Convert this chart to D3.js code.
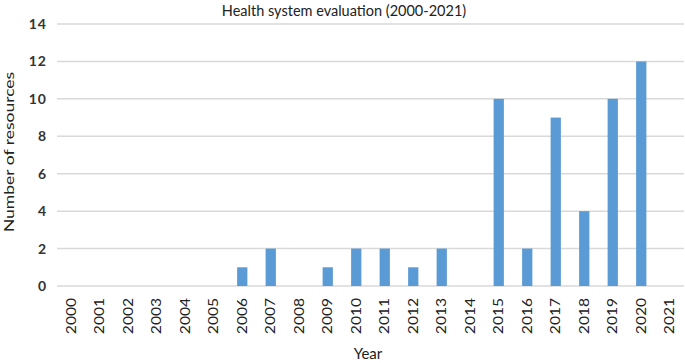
<!DOCTYPE html>
<html><head><meta charset="utf-8">
<script src="https://cdn.jsdelivr.net/npm/d3@7"></script>
<style>body{margin:0;background:#fff}svg{display:block}</style>
</head><body>
<svg id="chart" width="685" height="363"></svg>
<script>
const years = ["2000","2001","2002","2003","2004","2005","2006","2007","2008","2009","2010","2011","2012","2013","2014","2015","2016","2017","2018","2019","2020","2021"];
const resources = [0,0,0,0,0,0,1,2,0,1,2,2,1,2,0,10,2,9,4,10,12,0];
const yTicks = [0,2,4,6,8,10,12,14];
const title = "Health system evaluation (2000-2021)";

const svg = d3.select("#chart");
const m = {left:57, right:1, top:24, bottom:77};
const W = 685, H = 363;
const x = d3.scaleBand().domain(years).range([m.left, W - m.right]).paddingInner(0.64).paddingOuter(0.32);
const y = d3.scaleLinear().domain([0,14]).range([H - m.bottom, m.top]);
const font = "Lato, 'Open Sans', sans-serif";

svg.append("g").selectAll("line").data(yTicks).join("line")
  .attr("x1", m.left).attr("x2", W - m.right)
  .attr("y1", d => y(d)).attr("y2", d => y(d))
  .attr("stroke", "#d9d9d9").attr("stroke-width", 1.5);

svg.append("g").selectAll("rect").data(years).join("rect")
  .attr("x", d => x(d)).attr("width", x.bandwidth())
  .attr("y", (d,i) => y(resources[i]))
  .attr("height", (d,i) => y(0) - y(resources[i]))
  .attr("fill", "#5b9bd5");

const ya = svg.append("g").attr("transform", `translate(${m.left},0)`)
  .call(d3.axisLeft(y).tickValues(yTicks).tickSize(0).tickPadding(10));
ya.select(".domain").remove();
ya.selectAll("text").attr("font-family", font).attr("font-size", 14).attr("font-weight", "bold")
  .attr("letter-spacing", 1).attr("fill", "#333");

const xa = svg.append("g").attr("transform", `translate(0,${y(0)})`)
  .call(d3.axisBottom(x).tickSize(0).tickPadding(0));
xa.select(".domain").remove();
xa.selectAll(".tick text")
  .attr("font-family", font).attr("font-size", 13).attr("fill", "#222")
  .attr("transform", "rotate(-90) scale(1.2,1)")
  .attr("text-anchor", "end").attr("dx", "-10").attr("dy", "0.35em").attr("x", 0).attr("y", 0);

svg.append("text").attr("x", 344).attr("y", 16).attr("text-anchor", "middle")
  .attr("font-family", font).attr("font-size", 14.5).attr("fill", "#222").text(title);

svg.append("text").attr("transform", "translate(14,152) rotate(-90) scale(1.25,1)").attr("text-anchor", "middle")
  .attr("font-family", font).attr("font-size", 14).attr("fill", "#222").text("Number of resources");

svg.append("text").attr("x", 368).attr("y", 359).attr("text-anchor", "middle")
  .attr("font-family", font).attr("font-size", 15).attr("fill", "#222").text("Year");
</script>
</body></html>
